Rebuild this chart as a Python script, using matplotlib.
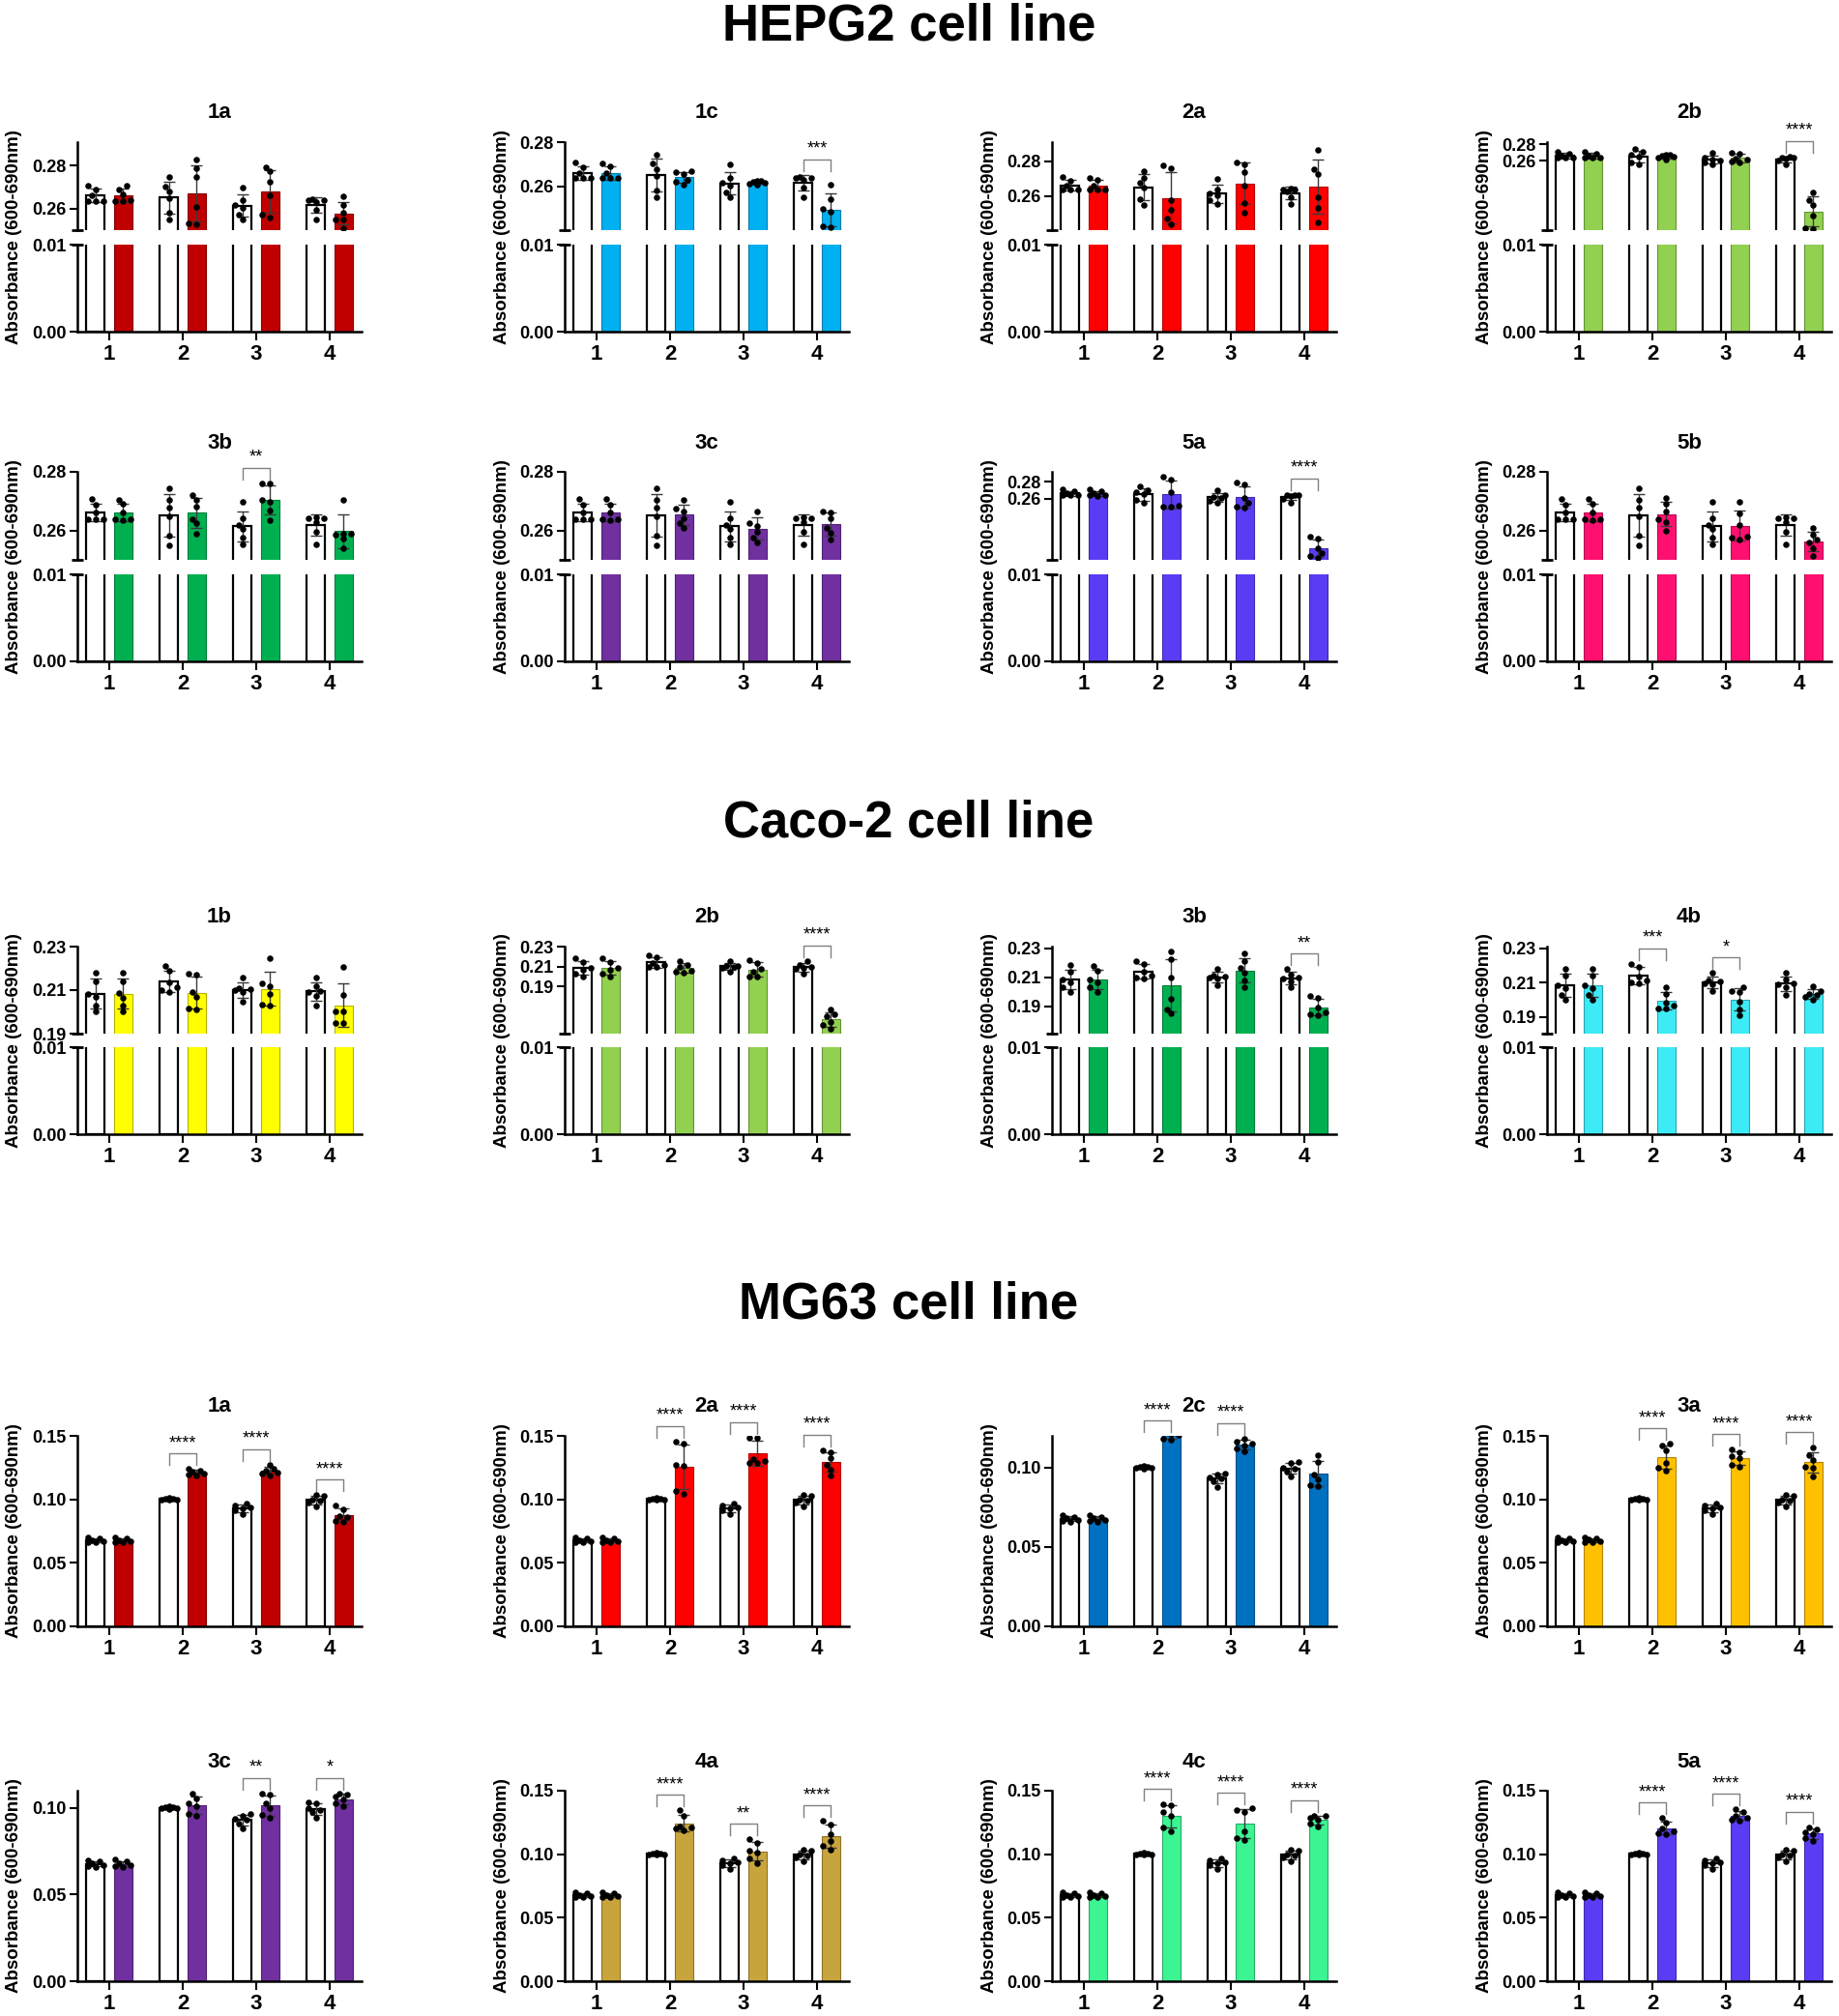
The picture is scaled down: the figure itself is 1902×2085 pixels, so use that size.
import numpy as np
import matplotlib
matplotlib.use('Agg')
import matplotlib.pyplot as plt
from matplotlib.colors import to_rgb

plt.rcParams['font.family'] = ['Liberation Sans', 'DejaVu Sans']
plt.rcParams['font.weight'] = 'bold'

# ---------------- data (6 replicates per bar) ----------------
HEPG2_CTRL = [[0.2708, 0.2689, 0.2660, 0.2637, 0.2637, 0.2637],
              [0.2745, 0.2704, 0.2679, 0.2649, 0.2582, 0.2550],
              [0.2698, 0.2641, 0.2619, 0.2604, 0.2575, 0.2553],
              [0.2645, 0.2641, 0.2641, 0.2630, 0.2597, 0.2553]]
HEPG2_1A = [[0.2708, 0.2690, 0.2665, 0.2637, 0.2637, 0.2640],
            [0.2825, 0.2785, 0.2745, 0.2610, 0.2535, 0.2527],
            [0.2793, 0.2772, 0.2723, 0.2664, 0.2575, 0.2560],
            [0.2659, 0.2619, 0.2582, 0.2553, 0.2553, 0.2511]]
HEPG2_1C = [[0.2705, 0.2690, 0.2660, 0.2640, 0.2637, 0.2637],
            [0.2670, 0.2665, 0.2655, 0.2632, 0.2620, 0.2608],
            [0.2628, 0.2625, 0.2622, 0.2618, 0.2612, 0.2610],
            [0.2607, 0.2545, 0.2500, 0.2488, 0.2420, 0.2418]]
HEPG2_2A = [[0.2705, 0.2692, 0.2662, 0.2640, 0.2638, 0.2636],
            [0.2778, 0.2760, 0.2580, 0.2520, 0.2470, 0.2440],
            [0.2795, 0.2785, 0.2740, 0.2660, 0.2560, 0.2505],
            [0.2865, 0.2754, 0.2726, 0.2596, 0.2531, 0.2448]]
HEPG2_2B = [[0.2710, 0.2690, 0.2665, 0.2640, 0.2636, 0.2635],
            [0.2675, 0.2670, 0.2660, 0.2650, 0.2640, 0.2615],
            [0.2700, 0.2690, 0.2630, 0.2610, 0.2590, 0.2580],
            [0.2200, 0.2112, 0.2052, 0.1912, 0.1760, 0.1752]]
HEPG2_3B = [[0.2706, 0.2690, 0.2663, 0.2638, 0.2637, 0.2636],
            [0.2722, 0.2706, 0.2680, 0.2640, 0.2625, 0.2590],
            [0.2761, 0.2761, 0.2703, 0.2697, 0.2669, 0.2634],
            [0.2706, 0.2590, 0.2588, 0.2585, 0.2574, 0.2541]]
HEPG2_3C = [[0.2707, 0.2688, 0.2662, 0.2640, 0.2637, 0.2636],
            [0.2706, 0.2675, 0.2665, 0.2641, 0.2625, 0.2608],
            [0.2666, 0.2625, 0.2615, 0.2595, 0.2575, 0.2560],
            [0.2666, 0.2661, 0.2641, 0.2608, 0.2591, 0.2569]]
HEPG2_5A = [[0.2708, 0.2690, 0.2664, 0.2640, 0.2638, 0.2636],
            [0.2857, 0.2819, 0.2680, 0.2520, 0.2510, 0.2505],
            [0.2792, 0.2762, 0.2611, 0.2555, 0.2505, 0.2500],
            [0.2158, 0.2140, 0.2026, 0.1970, 0.1932, 0.1913]]
HEPG2_5B = [[0.2708, 0.2690, 0.2662, 0.2640, 0.2637, 0.2636],
            [0.2711, 0.2690, 0.2665, 0.2640, 0.2630, 0.2600],
            [0.2697, 0.2658, 0.2620, 0.2580, 0.2575, 0.2569],
            [0.2608, 0.2585, 0.2569, 0.2560, 0.2541, 0.2513]]

CACO_CTRL = [[0.2181, 0.2141, 0.2082, 0.2067, 0.2030, 0.2001],
             [0.2211, 0.2189, 0.2135, 0.2112, 0.2100, 0.2093],
             [0.2156, 0.2110, 0.2105, 0.2098, 0.2090, 0.2048],
             [0.2156, 0.2119, 0.2095, 0.2090, 0.2072, 0.2030]]
CACO_1B = [[0.2181, 0.2141, 0.2085, 0.2065, 0.2030, 0.2001],
           [0.2176, 0.2172, 0.2090, 0.2067, 0.2016, 0.2011],
           [0.2245, 0.2131, 0.2119, 0.2082, 0.2033, 0.2030],
           [0.2208, 0.2078, 0.2001, 0.2001, 0.1949, 0.1949]]
CACO_2B = [[0.2180, 0.2140, 0.2083, 0.2066, 0.2031, 0.2002],
           [0.2158, 0.2120, 0.2095, 0.2060, 0.2045, 0.2040],
           [0.2167, 0.2135, 0.2080, 0.2050, 0.2000, 0.1995],
           [0.1671, 0.1623, 0.1600, 0.1543, 0.1511, 0.1473]]
CACO_3B = [[0.2180, 0.2142, 0.2082, 0.2066, 0.2030, 0.2002],
           [0.2275, 0.2225, 0.2100, 0.1950, 0.1880, 0.1850],
           [0.2264, 0.2209, 0.2166, 0.2130, 0.2078, 0.2034],
           [0.1973, 0.1958, 0.1892, 0.1860, 0.1849, 0.1838]]
CACO_4B = [[0.2181, 0.2140, 0.2083, 0.2067, 0.2029, 0.2001],
           [0.2072, 0.2035, 0.1983, 0.1964, 0.1951, 0.1946],
           [0.2072, 0.2053, 0.2044, 0.1988, 0.1942, 0.1908],
           [0.2081, 0.2053, 0.2035, 0.2025, 0.2015, 0.1998]]

MG63_CTRL = [[0.0700, 0.0690, 0.0680, 0.0672, 0.0665, 0.0660],
             [0.1010, 0.1005, 0.1003, 0.1000, 0.0998, 0.0995],
             [0.0965, 0.0955, 0.0940, 0.0930, 0.0912, 0.0880],
             [0.1035, 0.1030, 0.1000, 0.0990, 0.0975, 0.0945]]
MG63_1A = [[0.0700, 0.0692, 0.0680, 0.0670, 0.0664, 0.0660],
           [0.1240, 0.1225, 0.1215, 0.1205, 0.1198, 0.1190],
           [0.1275, 0.1240, 0.1225, 0.1210, 0.1200, 0.1190],
           [0.0948, 0.0925, 0.0870, 0.0860, 0.0830, 0.0825]]
MG63_2A = [[0.0701, 0.0690, 0.0681, 0.0671, 0.0665, 0.0661],
           [0.1457, 0.1442, 0.1271, 0.1264, 0.1068, 0.1042],
           [0.1487, 0.1485, 0.1320, 0.1300, 0.1290, 0.1288],
           [0.1386, 0.1373, 0.1322, 0.1271, 0.1233, 0.1187]]
MG63_2C = [[0.0702, 0.0691, 0.0680, 0.0671, 0.0664, 0.0660],
           [0.1240, 0.1230, 0.1215, 0.1205, 0.1180, 0.1178],
           [0.1184, 0.1165, 0.1150, 0.1140, 0.1120, 0.1100],
           [0.1076, 0.1035, 0.0955, 0.0925, 0.0890, 0.0885]]
MG63_3A = [[0.0700, 0.0690, 0.0682, 0.0670, 0.0665, 0.0661],
           [0.1436, 0.1424, 0.1385, 0.1290, 0.1250, 0.1225],
           [0.1391, 0.1373, 0.1340, 0.1322, 0.1271, 0.1260],
           [0.1406, 0.1347, 0.1309, 0.1260, 0.1246, 0.1182]]
MG63_3C = [[0.0701, 0.0690, 0.0680, 0.0672, 0.0664, 0.0660],
           [0.1084, 0.1056, 0.1025, 0.1010, 0.0966, 0.0955],
           [0.1084, 0.1075, 0.1030, 0.1000, 0.0960, 0.0944],
           [0.1084, 0.1080, 0.1065, 0.1047, 0.1025, 0.1010]]
MG63_4A = [[0.0700, 0.0691, 0.0681, 0.0671, 0.0665, 0.0660],
           [0.1347, 0.1304, 0.1220, 0.1210, 0.1200, 0.1185],
           [0.1117, 0.1092, 0.1030, 0.1010, 0.0964, 0.0931],
           [0.1263, 0.1232, 0.1156, 0.1105, 0.1066, 0.1033]]
MG63_4C = [[0.0700, 0.0690, 0.0681, 0.0672, 0.0664, 0.0661],
           [0.1390, 0.1385, 0.1329, 0.1300, 0.1212, 0.1181],
           [0.1360, 0.1345, 0.1334, 0.1180, 0.1130, 0.1110],
           [0.1303, 0.1300, 0.1290, 0.1270, 0.1240, 0.1215]]
MG63_5A = [[0.0701, 0.0690, 0.0680, 0.0671, 0.0665, 0.0660],
           [0.1283, 0.1245, 0.1205, 0.1180, 0.1165, 0.1160],
           [0.1354, 0.1334, 0.1304, 0.1290, 0.1275, 0.1265],
           [0.1212, 0.1195, 0.1175, 0.1160, 0.1125, 0.1105]]

GROUPS = ['1', '2', '3', '4']
S4 = '****'

# panel: (title, data, colour, stars per group, upper y-range)
HEPG2_PANELS = [
    ('1a', HEPG2_1A, '#C00000', ['', '', '', ''], (0.2502, 0.2907)),
    ('1c', HEPG2_1C, '#00B0F0', ['', '', '', '***'], (0.2404, 0.2800)),
    ('2a', HEPG2_2A, '#FF0000', ['', '', '', ''], (0.2406, 0.2910)),
    ('2b', HEPG2_2B, '#92D050', ['', '', '', S4], (0.1734, 0.2830)),
    ('3b', HEPG2_3B, '#00B050', ['', '', '**', ''], (0.2500, 0.2800)),
    ('3c', HEPG2_3C, '#7030A0', ['', '', '', ''], (0.2500, 0.2800)),
    ('5a', HEPG2_5A, '#5B3CF5', ['', '', '', S4], (0.1887, 0.2913)),
    ('5b', HEPG2_5B, '#FF1070', ['', '', '', ''], (0.2500, 0.2800)),
]
CACO_PANELS = [
    ('1b', CACO_1B, '#FFFF00', ['', '', '', ''], (0.1900, 0.2300)),
    ('2b', CACO_2B, '#92D050', ['', '', '', S4], (0.1426, 0.2300)),
    ('3b', CACO_3B, '#00B050', ['', '', '', '**'], (0.1714, 0.2310)),
    ('4b', CACO_4B, '#3DEBF7', ['', '***', '*', ''], (0.1802, 0.2310)),
]
MG63_PANELS = [
    ('1a', MG63_1A, '#C00000', ['', S4, S4, S4], 0.15),
    ('2a', MG63_2A, '#FF0000', ['', S4, S4, S4], 0.15),
    ('2c', MG63_2C, '#0070C0', ['', S4, S4, ''], 0.12),
    ('3a', MG63_3A, '#FFC000', ['', S4, S4, S4], 0.15),
    ('3c', MG63_3C, '#7030A0', ['', '', '**', '*'], 0.11),
    ('4a', MG63_4A, '#C8A43C', ['', S4, '**', S4], 0.15),
    ('4c', MG63_4C, '#3CF592', ['', S4, S4, S4], 0.15),
    ('5a', MG63_5A, '#5B3CF5', ['', S4, S4, S4], 0.15),
]

# ---------------- layout (pixels) ----------------
W, H = 1902, 2085
fig = plt.figure(figsize=(W / 100, H / 100), dpi=100)

COL_X = [80, 584, 1088, 1600]
AX_W = 294
XLIM = (0.566, 4.434)
BAR_W = 0.245
OFF = 0.19
XPU = AX_W / (XLIM[1] - XLIM[0])


def px_axes(x0, y0, w, h):
    return fig.add_axes([x0 / W, 1 - (y0 + h) / H, w / W, h / H])


def swarm(vals, ypu, d=6.0, step=4.0):
    # simple beeswarm: spread overlapping dots sideways, staying inside the bar
    order = np.argsort(vals)
    placed = []
    offs = np.zeros(len(vals))
    for i in order:
        y = vals[i] * ypu
        best, best_d = 0.0, -1
        for k in [0, -1, 1, -2, 2]:
            x = k * step
            dmin = min([np.hypot(x - px, y - py) for px, py in placed] + [99])
            if dmin >= d:
                best = x
                break
            if dmin > best_d:
                best, best_d = x, dmin
        placed.append((best, y))
        offs[i] = best / XPU
    return offs


def darker(c, f=0.7):
    r, g, b = to_rgb(c)
    return (r * f, g * f, b * f)


def style(ax, lo, hi, ticks, xaxis=True):
    ax.set_xlim(*XLIM)
    ax.set_ylim(lo, hi)
    ax.set_yticks(ticks)
    ax.set_yticklabels(['%.2f' % t for t in ticks])
    for s in ['top', 'right']:
        ax.spines[s].set_visible(False)
    for s in ['left', 'bottom']:
        ax.spines[s].set_linewidth(1.8)
    ax.tick_params(axis='y', labelsize=13, length=6, width=1.5, pad=2)
    if xaxis:
        ax.set_xticks([1, 2, 3, 4])
        ax.set_xticklabels(GROUPS)
        ax.tick_params(axis='x', labelsize=16, length=6.5, width=1.5, pad=3)
    else:
        ax.spines['bottom'].set_visible(False)
        ax.set_xticks([])
    ax.patch.set_alpha(0)


def draw_bars(ax, ctrl, trt, color, lo, hi, h_px):
    ypu = h_px / (hi - lo)
    for g in range(4):
        for k, vals in enumerate([ctrl[g], trt[g]]):
            vals = np.array(vals)
            x = g + 1 + (OFF if k else -OFF)
            m = vals.mean()
            sd = vals.std(ddof=1)
            if k == 0:
                ax.bar(x, m, BAR_W, color='white', edgecolor='black', linewidth=1.6, zorder=2)
            else:
                ax.bar(x, m, BAR_W, color=color, edgecolor=darker(color), linewidth=0.8, zorder=2)
            ax.errorbar(x, m, yerr=sd, fmt='none', ecolor='#3a3a3a', elinewidth=1,
                        capsize=4, capthick=1, zorder=3)
            ax.scatter(x + swarm(vals, ypu), vals, s=22, color='black', linewidths=0, zorder=4)


def draw_sig(ax, ctrl, trt, stars, lo, hi, h_px):
    dpu = (hi - lo) / h_px
    for g in range(4):
        if not stars[g]:
            continue
        tops = []
        for vals in (ctrl[g], trt[g]):
            v = np.array(vals)
            tops += [v.max(), v.mean() + v.std(ddof=1)]
        top = min(max(tops), hi)
        y = top + 16 * dpu
        leg = 12 * dpu
        x1, x2 = g + 1 - OFF, g + 1 + OFF
        ax.plot([x1, x1, x2, x2], [y - leg, y, y, y - leg], color='#808080', lw=1,
                clip_on=False, zorder=5)
        ax.text(g + 1, y + 2 * dpu, stars[g], ha='center', va='bottom', fontsize=13,
                fontweight='normal', clip_on=False)


def break_mark(ax, yaxes):
    s = 6 / AX_W
    ax.plot([-s, s], [yaxes, yaxes], transform=ax.transAxes, color='black', lw=2,
            clip_on=False, solid_capstyle='butt')


def broken_panel(col, up_top, up_h, low_top, low_h, title, ctrl, trt, color, stars, rng, ticks):
    x0 = COL_X[col]
    lo, hi = rng
    axu = px_axes(x0, up_top, AX_W, up_h)
    axl = px_axes(x0, low_top, AX_W, low_h)
    style(axu, lo, hi, ticks, xaxis=False)
    style(axl, 0, 0.01, [0.0, 0.01])
    draw_bars(axu, ctrl, trt, color, lo, hi, up_h)
    draw_bars(axl, ctrl, trt, color, 0, 0.01, low_h)
    draw_sig(axu, ctrl, trt, stars, lo, hi, up_h)
    break_mark(axu, 0)
    break_mark(axl, 1)
    fig.text((x0 + AX_W / 2) / W, 1 - (up_top - 30) / H, title, ha='center', va='center',
             fontsize=16, fontweight='bold')
    yc = (up_top + low_top + low_h) / 2
    fig.text((x0 - 65) / W, 1 - yc / H, 'Absorbance (600-690nm)', rotation=90,
             ha='center', va='center', fontsize=13.5, fontweight='bold')


def plain_panel(col, top, h, title, ctrl, trt, color, stars, ymax):
    x0 = COL_X[col]
    ax = px_axes(x0, top, AX_W, h)
    ticks = [t for t in [0.0, 0.05, 0.10, 0.15] if t <= ymax + 1e-9]
    style(ax, 0, ymax, ticks)
    draw_bars(ax, ctrl, trt, color, 0, ymax, h)
    draw_sig(ax, ctrl, trt, stars, 0, ymax, h)
    fig.text((x0 + AX_W / 2) / W, 1 - (top - 30) / H, title, ha='center', va='center',
             fontsize=16, fontweight='bold')
    fig.text((x0 - 65) / W, 1 - (top + h / 2) / H, 'Absorbance (600-690nm)', rotation=90,
             ha='center', va='center', fontsize=13.5, fontweight='bold')


# section titles
for txt, yc in [('HEPG2 cell line', 27), ('Caco-2 cell line', 852), ('MG63 cell line', 1349)]:
    fig.text(940 / W, 1 - yc / H, txt, ha='center', va='center', fontsize=38, fontweight='bold')

# HEPG2
for i, (t, d, c, st, rng) in enumerate(HEPG2_PANELS):
    row, col = divmod(i, 4)
    up_top = [147, 488][row]
    broken_panel(col, up_top, 91, up_top + 106, 90, t, HEPG2_CTRL, d, c, st, rng, [0.26, 0.28])

# Caco-2
for i, (t, d, c, st, rng) in enumerate(CACO_PANELS):
    broken_panel(i, 979, 90, 1083, 90, t, CACO_CTRL, d, c, st, rng, [0.19, 0.21, 0.23])

# MG63
for i, (t, d, c, st, ymax) in enumerate(MG63_PANELS):
    row, col = divmod(i, 4)
    top = [1485, 1852][row]
    plain_panel(col, top, 197, t, MG63_CTRL, d, c, st, ymax)

fig.savefig('out.png', dpi=100, facecolor='white')
